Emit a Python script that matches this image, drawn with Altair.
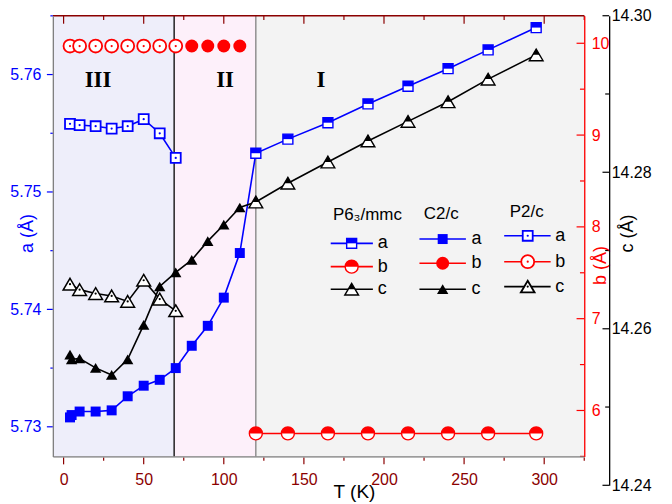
import altair as alt
import pandas as pd

# ---------------- data ----------------
T_p2 = [4, 10, 20, 30, 40, 50, 60, 70]
a_p2 = [5.7558, 5.7557, 5.7556, 5.7554, 5.7556, 5.7562, 5.7550, 5.7529]
b_p2 = [9.97, 9.97, 9.97, 9.97, 9.97, 9.97, 9.97, 9.97]
c_p2 = [14.2657, 14.2650, 14.2645, 14.2642, 14.2635, 14.2662, 14.2638, 14.2623]

T_c2 = [4, 5, 10, 20, 30, 40, 50, 60, 70, 80, 90, 100, 110]
a_c2 = [5.7308, 5.7310, 5.7313, 5.7313, 5.7314, 5.7326, 5.7335, 5.7340,
        5.7350, 5.7369, 5.7386, 5.7410, 5.7448]
c_c2 = [14.2567, 14.2561, 14.2562, 14.2550, 14.2541, 14.2561, 14.2605, 14.2654,
        14.2672, 14.2688, 14.2712, 14.2733, 14.2755]
T_c2b = [80, 90, 100, 110]
b_c2 = [9.97, 9.97, 9.97, 9.97]

T_p6 = [120, 140, 165, 190, 215, 240, 265, 295]
a_p6 = [5.7533, 5.7545, 5.7559, 5.7575, 5.7590, 5.7605, 5.7621, 5.7640]
b_p6 = [5.75, 5.75, 5.75, 5.75, 5.75, 5.75, 5.75, 5.75]
c_p6 = [14.2762, 14.2786, 14.2813, 14.2840, 14.2865, 14.2890, 14.2919, 14.2950]

region_names = ["III", "II", "I"]
region_start = [-6.7, 69, 120]
region_end = [69, 120, 325]
region_label_T = [21.5, 100.8, 160.6]
boundary_T = [69, 120]

x_ticks_major = [0, 50, 100, 150, 200, 250, 300]
x_ticks_minor = [25, 75, 125, 175, 225, 275, 325]
a_ticks_major = [5.73, 5.74, 5.75, 5.76]
a_ticks_minor = [5.735, 5.745, 5.755, 5.765]
b_ticks_major = [6, 7, 8, 9, 10]
b_ticks_minor = [5.5, 6.5, 7.5, 8.5, 9.5]
c_ticks_major = [14.24, 14.26, 14.28, 14.30]
c_ticks_minor = [14.25, 14.27, 14.29]

# ---------------- styles ----------------
W, H = 533, 442
FONT = "Liberation Sans"
BLUE, RED, BLACK = "#0000FF", "#FF0000", "#000000"
DARKRED = "#8B0000"
GREY = "#808080"
REGION_COLORS = ["#EEEEFA", "#FDF0FA", "#F3F3F3"]

SQ = "M-1,-1L1,-1L1,1L-1,1Z"
SQ_TOP = "M-1,-1L1,-1L1,0L-1,0Z"
CI = "circle"
CI_TOP = "M-1,0A1,1,0,0,1,1,0Z"
TR = "M0,-0.85L1,0.85L-1,0.85Z"
TR_TOP = "M0,-0.85L0.5,0L-0.5,0Z"

S_SQ, S_CI, S_TR, S_TRF = 100, 169, 190, 130

xs = alt.Scale(domain=[-6.7, 325], nice=False, zero=False)
a_scale = alt.Scale(domain=[5.72748, 5.76501], nice=False, zero=False)
b_scale = alt.Scale(domain=[5.5, 10.3], nice=False, zero=False)
c_scale = alt.Scale(domain=[14.24, 14.30], range=[471, 0], nice=False, zero=False)


def axis_props(**kw):
    base = dict(ticks=False, grid=False, labelFlush=False, labelOverlap=False,
                labelFont=FONT, labelFontSize=16, titleFont=FONT, titleFontSize=18,
                titleFontWeight="normal", zindex=1, domainWidth=1.3)
    base.update(kw)
    return alt.Axis(**base)


x_axis = axis_props(title="T (K)", values=x_ticks_major, format="d", domainColor=GREY,
                    labelColor=DARKRED, labelPadding=15, titleColor=BLACK, titleFontSize=19,
                    titleX=302, titleY=41, titleBaseline="alphabetic", titleAlign="center")
a_axis = axis_props(title="a (Å)", orient="left", values=a_ticks_major, format=".2f",
                    domainColor=GREY, labelColor=BLUE, labelPadding=12, titleColor=BLUE,
                    titleX=-25.5, titleY=218, titleAngle=270, titleAlign="center",
                    titleBaseline="middle")
b_axis = axis_props(title="b (Å)", orient="right", values=b_ticks_major, format="d",
                    domainColor=RED, labelColor=RED, labelPadding=7, titleColor=RED,
                    titleX=16, titleY=250, titleAngle=270, titleAlign="center",
                    titleBaseline="middle")
c_axis = axis_props(title="c (Å)", orient="right", offset=25, values=c_ticks_major, format=".2f",
                    domainColor=BLACK, labelColor=BLACK, labelPadding=2, titleColor=BLACK,
                    titleX=18, titleY=218, titleAngle=270, titleAlign="center",
                    titleBaseline="middle")


def XE(field="T"):
    return alt.X(f"{field}:Q", scale=xs, axis=x_axis)


df_p2 = pd.DataFrame({"T": T_p2, "a": a_p2, "b": b_p2, "c": c_p2})
df_c2 = pd.DataFrame({"T": T_c2, "a": a_c2, "c": c_c2})
df_c2b = pd.DataFrame({"T": T_c2b, "b": b_c2})
df_p6 = pd.DataFrame({"T": T_p6, "a": a_p6, "b": b_p6, "c": c_p6})
df_join = pd.DataFrame({"T": T_c2 + T_p6, "a": a_c2 + a_p6, "c": c_c2 + c_p6})
df_reg = pd.DataFrame({"name": region_names, "s": region_start, "e": region_end,
                       "lt": region_label_T})
dummy = pd.DataFrame({"d": [0]})

SCALES = {"a": (a_scale, a_axis), "b": (b_scale, b_axis), "c": (c_scale, c_axis)}


def Y(field, key):
    sc, ax = SCALES[key]
    return alt.Y(f"{field}:Q", scale=sc, axis=ax)


def line(df, field, color):
    return alt.Chart(df).mark_line(color=color, strokeWidth=1.6).encode(
        x=XE(), y=Y(field, field))


def pts(df, field, shape, size, fill, stroke=None, sw=0):
    kw = dict(shape=shape, size=size, filled=True, fill=fill, opacity=1, strokeWidth=sw)
    if stroke:
        kw["stroke"] = stroke
    return alt.Chart(df).mark_point(**kw).encode(x=XE(), y=Y(field, field))


def half(df, field, full, top, size, color):
    return [pts(df, field, full, size, "white", color, 1.4),
            pts(df, field, top, size, color)]


def openm(df, field, full, size, color, sw=1.8):
    return [pts(df, field, full, size, "white", color, sw),
            pts(df, field, "circle", 5, color)]


def yticks(vals, key, color, x1, x2):
    return alt.Chart(pd.DataFrame({"v": vals})).mark_rule(color=color, strokeWidth=1.2).encode(
        y=Y("v", key), x=alt.value(x1), x2=alt.value(x2))


def xticks(vals, y1, y2):
    return alt.Chart(pd.DataFrame({"v": vals})).mark_rule(color=DARKRED, strokeWidth=1.2).encode(
        x=XE("v"), y=alt.value(y1), y2=alt.value(y2))


# ---------------- background group ----------------
bg = alt.Chart(df_reg).mark_rect().encode(
    x=XE("s"), x2="e:Q",
    y=alt.value(0), y2=alt.value(H),
    fill=alt.Fill("name:N", scale=alt.Scale(domain=region_names, range=REGION_COLORS), legend=None))
bound = alt.Chart(pd.DataFrame({"T": boundary_T, "k": ["b1", "b2"]})).mark_rule(strokeWidth=1.3).encode(
    x=XE(), y=alt.value(0), y2=alt.value(H),
    color=alt.Color("k:N", scale=alt.Scale(domain=["b1", "b2"], range=[BLACK, GREY]), legend=None))
reg_text = alt.Chart(df_reg).mark_text(font="Liberation Serif", fontWeight="bold", fontSize=23,
                                       baseline="middle", color=BLACK).encode(
    x=XE("lt"), y=alt.value(64), text="name:N")
top_frame = alt.Chart(dummy).mark_rule(color=DARKRED, strokeWidth=1.5).encode(
    x=alt.value(0), x2=alt.value(W), y=alt.value(0))
bg_group = alt.layer(bg, bound, reg_text, xticks(x_ticks_major, H + 1, H + 8),
                     xticks(x_ticks_minor, H + 1, H + 4.5), xticks(x_ticks_major, 0, 8),
                     xticks(x_ticks_minor, 0, 4.3), top_frame)

# ---------------- a group ----------------
a_layers = [line(df_join, "a", BLUE), line(df_p2, "a", BLUE)]
a_layers += [pts(df_c2, "a", SQ, S_SQ, BLUE)]
a_layers += half(df_p6, "a", SQ, SQ_TOP, S_SQ, BLUE)
a_layers += openm(df_p2, "a", SQ, S_SQ, BLUE)
a_layers += [yticks(a_ticks_major, "a", BLUE, -6, 0), yticks(a_ticks_minor, "a", BLUE, -2.5, 0)]
a_group = alt.layer(*a_layers)

# ---------------- b group ----------------
b_layers = [line(df_p6, "b", RED)]
b_layers += half(df_p6, "b", CI, CI_TOP, S_CI, RED)
b_layers += [pts(df_c2b, "b", CI, S_CI, RED)]
b_layers += openm(df_p2, "b", CI, S_CI, RED)
b_layers += [yticks(b_ticks_major, "b", RED, W - 7.7, W),
             yticks(b_ticks_minor, "b", RED, W - 4.3, W)]
b_group = alt.layer(*b_layers)

# ---------------- c group ----------------
c_layers = [line(df_join, "c", BLACK), line(df_p2, "c", BLACK)]
c_layers += [pts(df_c2, "c", TR, S_TRF, BLACK)]
c_layers += half(df_p6, "c", TR, TR_TOP, S_TR, BLACK)
c_layers += openm(df_p2, "c", TR, S_TR, BLACK, 1.5)
c_layers += [yticks(c_ticks_major, "c", BLACK, W + 25 - 6.7, W + 25),
             yticks(c_ticks_minor, "c", BLACK, W + 25 - 4, W + 25)]
c_group = alt.layer(*c_layers)

# ---------------- legend (annotation) ----------------
def lg_rule(x1, x2, y, color):
    return alt.Chart(dummy).mark_rule(color=color, strokeWidth=1.6).encode(
        x=alt.value(x1), x2=alt.value(x2), y=alt.value(y))


def lg_pt(x, y, shape, size, fill, stroke=None, sw=0):
    kw = dict(shape=shape, size=size, filled=True, fill=fill, opacity=1, strokeWidth=sw)
    if stroke:
        kw["stroke"] = stroke
    return alt.Chart(dummy).mark_point(**kw).encode(x=alt.value(x), y=alt.value(y))


def lg_text(x, y, s, size, align):
    return alt.Chart(dummy).mark_text(font=FONT, fontSize=size, align=align, baseline="middle",
                                      color=BLACK).encode(x=alt.value(x), y=alt.value(y), text=alt.value(s))


legend_groups = [
    ("P6₃/mmc", 315.5, 200, (278.7, 321, 299.7, 326), [228.3, 251.7, 274.3], "half"),
    ("C2/c", 389.5, 199, (367.7, 414.3, 391, 420), [224, 248.3, 274.3], "full"),
    ("P2/c", 475.3, 197, (452.7, 499.3, 476.3, 504), [220.7, 246.7, 271.7], "open"),
]
items = [("a", BLUE, SQ, SQ_TOP, S_SQ, S_SQ), ("b", RED, CI, CI_TOP, S_CI, S_CI),
         ("c", BLACK, TR, TR_TOP, S_TR, S_TRF)]
leg = []
for title, tx, ty, (lx1, lx2, mx, labx), rows, kind in legend_groups:
    leg.append(lg_text(tx, ty, title, 17, "center"))
    for (lab, col, full, top, sz, szf), ry in zip(items, rows):
        leg.append(lg_rule(lx1, lx2, ry, col))
        if kind == "half":
            leg += [lg_pt(mx, ry, full, sz, "white", col, 1.4), lg_pt(mx, ry, top, sz, col)]
        elif kind == "full":
            leg.append(lg_pt(mx, ry, full, szf, col))
        else:
            leg += [lg_pt(mx, ry, full, sz, "white", col, 1.8), lg_pt(mx, ry, "circle", 5, col)]
        leg.append(lg_text(labx, ry, lab, 18, "left"))
overlay = alt.layer(*leg)

chart = alt.layer(bg_group, a_group, b_group, c_group, overlay).resolve_scale(
    y="independent", fill="independent", color="independent"
).properties(
    width=W, height=H,
    padding={"left": 45, "top": 7, "right": 80, "bottom": 46},
    autosize=alt.AutoSizeParams(type="none"),
).configure_view(stroke=None).configure(background="white")

chart.save("out.html", embed_options={"renderer": "svg", "actions": False})
